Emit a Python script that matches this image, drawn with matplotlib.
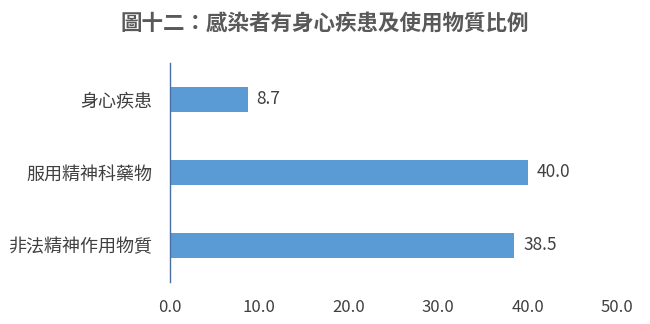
import matplotlib
matplotlib.use('Agg')
import matplotlib.pyplot as plt

plt.rcParams['font.family'] = ['Noto Sans CJK TC', 'DejaVu Sans']

# 資料
categories = ['身心疾患', '服用精神科藥物', '非法精神作用物質']
values = [8.7, 40.0, 38.5]
xticks = [0, 10, 20, 30, 40, 50]
title = '圖十二：感染者有身心疾患及使用物質比例'

bar_color = '#5B9BD5'
text_color = '#404040'

fig = plt.figure(figsize=(6.5, 3.24), dpi=100)
ax = fig.add_axes([0.2615, 0.130, 0.688, 0.676])

y = list(range(len(categories)))
bars = ax.barh(y, values, height=0.34, color=bar_color)
ax.set_ylim(len(categories) - 0.5, -0.5)
ax.set_xlim(0, 50)

ax.set_yticks(y)
ax.set_yticklabels(categories, fontsize=13, color=text_color)
ax.set_xticks(xticks)
ax.set_xticklabels([f'{t:.1f}' for t in xticks], fontsize=12, color=text_color)
ax.tick_params(axis='both', length=0)
ax.tick_params(axis='y', pad=13)
ax.tick_params(axis='x', pad=12)

for s in ['top', 'right', 'bottom']:
    ax.spines[s].set_visible(False)
ax.spines['left'].set_color('#4a6fa5')
ax.spines['left'].set_linewidth(1.0)

for b, v in zip(bars, values):
    ax.text(b.get_width() + 1.0, b.get_y() + b.get_height() / 2, f'{v:.1f}',
            va='center', ha='left', fontsize=12.5, color=text_color)

fig.text(0.5, 0.928, title, ha='center', va='center', fontsize=15.5,
         fontweight='bold', color='#595959')

fig.savefig('out.png', dpi=100)
